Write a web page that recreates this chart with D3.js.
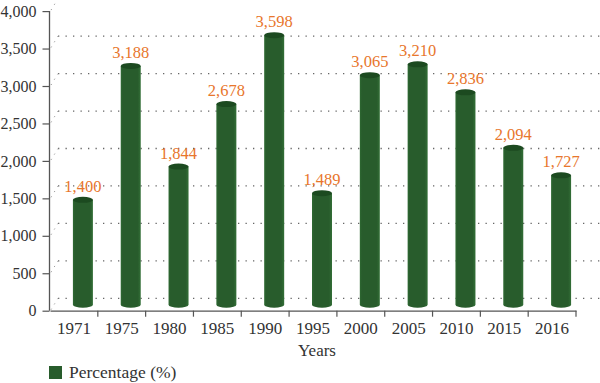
<!DOCTYPE html>
<html><head><meta charset="utf-8">
<script src="https://cdn.jsdelivr.net/npm/d3@7"></script>
<style>body{margin:0;background:#fff}svg{display:block}</style>
</head><body>
<svg id="c" width="600" height="383"></svg>
<script>
const categories = ["1971","1975","1980","1985","1990","1995","2000","2005","2010","2015","2016"];
const values = [1400,3188,1844,2678,3598,1489,3065,3210,2836,2094,1727];
const valueLabels = ["1,400","3,188","1,844","2,678","3,598","1,489","3,065","3,210","2,836","2,094","1,727"];
const yTicks = [0,500,1000,1500,2000,2500,3000,3500,4000];
const seriesName = "Percentage (%)";
const xTitle = "Years";

const svg = d3.select("#c");
const font = "'Liberation Serif', 'DejaVu Serif', serif";
const x = d3.scaleBand().domain(categories).range([50, 576]).padding(0);
const y = d3.scaleLinear().domain([0, 4000]).range([310.7, 11.1]);
const dx = 8, dy = 12.4;      // back wall offset
const bdx = 9, bdy = 6;       // bar (mid-depth) offset
const barW = 20, ry = 3;

const defs = svg.append("defs");
const g = defs.append("linearGradient").attr("id","cyl").attr("x1","0").attr("x2","1").attr("y1","0").attr("y2","0");
g.append("stop").attr("offset","0").attr("stop-color","#2f6a33");
g.append("stop").attr("offset","0.1").attr("stop-color","#285c2c");
g.append("stop").attr("offset","0.85").attr("stop-color","#285c2c");
g.append("stop").attr("offset","1").attr("stop-color","#336f37");

// gridlines (back wall, dotted)
const grid = svg.append("g");
yTicks.forEach(v => {
  const yy = y(v) - dy;
  grid.append("line").attr("x1", 50 + dx).attr("x2", 600).attr("y1", yy).attr("y2", yy)
    .attr("stroke", "#666").attr("stroke-width", 1.3).attr("stroke-dasharray", "1.3,6.2");
  grid.append("line").attr("x1", 51).attr("x2", 50 + dx).attr("y1", y(v) - 1).attr("y2", yy)
    .attr("stroke", "#999").attr("stroke-width", 1).attr("stroke-dasharray", "1.2,5");
});

// bars
const bars = svg.append("g");
categories.forEach((c, i) => {
  const cx = x(c) + x.bandwidth() / 2 + bdx;
  const y0 = y(0) - bdy, y1 = y(values[i]) - bdy;
  bars.append("path")
    .attr("d", `M${cx - barW/2},${y1} L${cx - barW/2},${y0} A${barW/2},${ry} 0 0 0 ${cx + barW/2},${y0} L${cx + barW/2},${y1} Z`)
    .attr("fill", "url(#cyl)");
  bars.append("ellipse").attr("cx", cx).attr("cy", y1).attr("rx", barW/2).attr("ry", ry)
    .attr("fill", "#1c4a20");
  bars.append("text").attr("x", cx).attr("y", y1 - 8).attr("text-anchor", "middle")
    .attr("font-family", font).attr("font-size", 16.5).attr("fill", "#e8762c")
    .text(valueLabels[i]);
});

// y axis
const yAxis = d3.axisLeft(y).tickValues(yTicks).tickSize(7).tickPadding(6)
  .tickFormat(d3.format(","));
const ya = svg.append("g").attr("transform", "translate(49.5,0)").call(yAxis);
ya.select(".domain").attr("stroke", "#555").attr("stroke-width", 1.3).attr("d", "M0,11.1V310.7");
ya.selectAll(".tick line").attr("stroke", "#555").attr("stroke-width", 1.2);
ya.selectAll("text").attr("font-family", font).attr("font-size", 16).attr("fill", "#333");

// x axis
const xAxis = d3.axisBottom(x).tickSize(0).tickPadding(12);
const xa = svg.append("g").attr("transform", "translate(0,310.7)").call(xAxis);
xa.select(".domain").attr("stroke", "#555").attr("stroke-width", 1.3);
xa.selectAll("text").attr("font-family", font).attr("font-size", 17).attr("fill", "#333")
  .attr("dy", "0.71em").attr("transform", "translate(0,-1)");
categories.forEach(c => {
  const tx = x(c) + x.bandwidth();
  xa.append("line").attr("x1", tx).attr("x2", tx).attr("y1", 0).attr("y2", 6)
    .attr("stroke", "#555").attr("stroke-width", 1.2);
});

// axis title
svg.append("text").attr("x", 317).attr("y", 356).attr("text-anchor", "middle")
  .attr("font-family", font).attr("font-size", 17).attr("fill", "#333").text(xTitle);

// legend
svg.append("rect").attr("x", 49).attr("y", 366).attr("width", 13).attr("height", 13).attr("fill", "#285c2c");
svg.append("text").attr("x", 69).attr("y", 378).attr("font-family", font).attr("font-size", 17.5)
  .attr("fill", "#333").text(seriesName);
</script>
</body></html>
